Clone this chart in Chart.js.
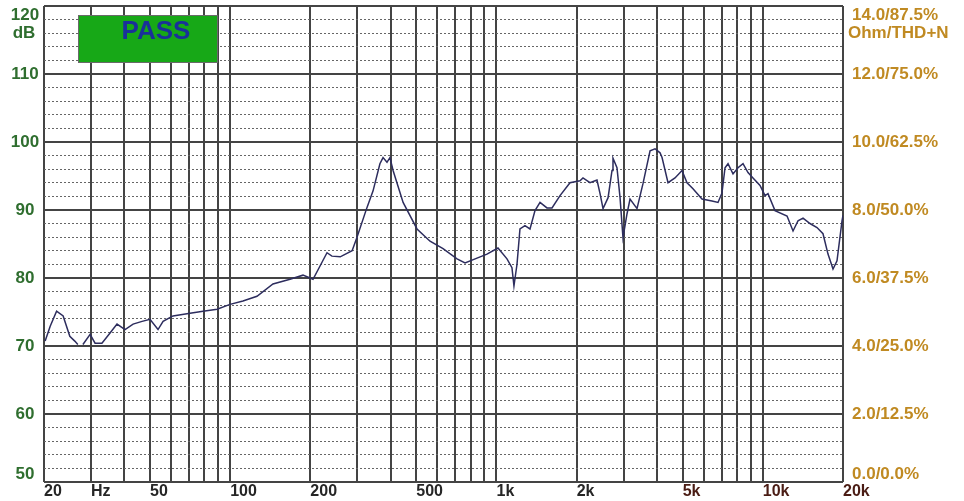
<!DOCTYPE html>
<html>
<head>
<meta charset="utf-8">
<script src="https://cdn.jsdelivr.net/npm/chart.js@4/dist/chart.umd.min.js"></script>
<style>
  body { margin: 0; background: #fff; }
  #wrap { width: 964px; height: 501px; }
</style>
</head>
<body>
<div id="wrap"><canvas id="respChart" width="964" height="501"></canvas></div>
<script>
// frequency response (Hz / dB). null = gap in the trace
const freqs = [20.2, 21.1, 22.3, 23.6, 25.0, 26.1, 26.8, 27.4,
  28.0, 29.8, 31.1, 33.0, 35.4, 37.6, 40.3, 43.2, 46.7, 50.0, 53.6, 56.0, 61.0, 70.7, 79.1, 89.3,
  99.9, 111.7, 126.1, 144.8, 167.8, 187.7, 204.7, 231, 241, 259, 287, 299, 326, 344, 365, 375,
  388, 398, 409, 446, 503, 563, 630, 711, 762, 845, 921, 1013, 1095, 1143, 1163, 1194, 1225,
  1279, 1336, 1395, 1457, 1547, 1616, 1732, 1888, 2058, 2112, 2244, 2384, 2448, 2512, 2624,
  2715, 2738, 2834, 2910, 2985, 3090, 3172, 3312, 3370, 3550, 3772, 3938, 4112, 4184, 4406,
  4680, 4972, 5192, 5468, 5910, 6444, 6788, 7026, 7212, 7402, 7728, 8070, 8426, 8798, 9186,
  9760, 10192, 10458, 11110, 12328, 12984, 13558, 14156, 15036, 15974, 16824, 17568, 18346,
  18990, 19830, 20000];
const spl = [70.7, 72.9, 75.1, 74.4, 71.4, 70.7, 70.2, null,
  70.2, 71.7, 70.4, 70.4, 71.9, 73.2, 72.4, 73.2, 73.6, 73.9, 72.4, 73.6, 74.4, 74.8, 75.1, 75.4,
  76.1, 76.6, 77.3, 79.1, 79.8, 80.4, 79.8, 83.7, 83.2, 83.1, 84.0, 85.9, 90.3, 92.8, 96.8, 97.7,
  97.0, 97.7, 95.8, 91.1, 87.2, 85.4, 84.3, 82.8, 82.2, 82.9, 83.5, 84.4, 82.8, 81.5, 78.8, 82.0, 87.2,
  87.7, 87.2, 89.9, 91.1, 90.3, 90.3, 92.1, 94.0, 94.3, 94.7, 94.0, 94.4, 92.4, 90.2, 91.8,
  95.8, 97.6, 96.2, 91.8, 85.9, 89.4, 91.6, 90.6, 90.2, 93.9, 98.7, 99.0, 98.4, 97.7, 94.0,
  94.7, 95.8, 94.0, 93.1, 91.6, 91.3, 91.1, 92.5, 96.2, 96.8, 95.3, 96.2, 96.8, 95.5, 94.7,
  93.6, 92.1, 92.4, 89.9, 89.1, 86.9, 88.4, 88.8, 88.0, 87.4, 86.5, 83.5, 81.3,
  82.5, 88.4, 89.2];

// grid / tick labels
const freqGrid = [20, 30, 40, 50, 60, 70, 80, 90, 100, 200, 300, 400, 500, 600, 700, 800, 900,
  1000, 2000, 3000, 4000, 5000, 6000, 7000, 8000, 9000, 10000, 20000];
const freqLabels = { 20: '20', 30: 'Hz', 50: '50', 100: '100', 200: '200', 500: '500',
  1000: '1k', 2000: '2k', 5000: '5k', 10000: '10k', 20000: '20k' };
const dbTicks = [120, 110, 100, 90, 80, 70, 60, 50];
const rightTicks = ['14.0/87.5%', '12.0/75.0%', '10.0/62.5%', '8.0/50.0%', '6.0/37.5%',
  '4.0/25.0%', '2.0/12.5%', '0.0/0.0%'];

const points = freqs.map((f, i) => ({ x: f, y: spl[i] }));

const FONT = '"Liberation Sans", Arial, sans-serif';

// axis side labels + PASS box
const sideLabels = {
  id: 'sideLabels',
  afterDraw: (chart) => {
    const { ctx, chartArea } = chart;
    const ys = chart.scales.y;
    ctx.save();
    ctx.textBaseline = 'middle';
    dbTicks.forEach((v, i) => {
      let py = ys.getPixelForValue(v);
      if (i === 0) py = 15;
      if (i === dbTicks.length - 1) py = 474;
      ctx.font = 'bold 17px ' + FONT;
      ctx.fillStyle = '#2f6e2f';
      ctx.textAlign = 'center';
      ctx.fillText(String(v), 25, py);
      ctx.font = 'bold 17px ' + FONT;
      ctx.fillStyle = '#c08a22';
      ctx.textAlign = 'left';
      ctx.fillText(rightTicks[i], chartArea.right + 9, py);
    });
    ctx.font = 'bold 17px ' + FONT;
    ctx.fillStyle = '#2f6e2f';
    ctx.textAlign = 'center';
    ctx.fillText('dB', 24, 33);
    ctx.fillStyle = '#c08a22';
    ctx.textAlign = 'left';
    ctx.fillText('Ohm/THD+N', chartArea.right + 5, 33);

    // PASS badge
    ctx.fillStyle = '#17a817';
    ctx.fillRect(78, 15, 140, 48);
    ctx.strokeStyle = '#6a6a6a';
    ctx.lineWidth = 1;
    ctx.strokeRect(78.5, 15.5, 139, 47);
    ctx.fillStyle = '#1a309a';
    ctx.font = 'bold 26px ' + FONT;
    ctx.textAlign = 'center';
    ctx.fillText('PASS', 156, 32);
    ctx.restore();
  }
};

const config = {
  type: 'line',
  data: {
    datasets: [{
      data: points,
      borderColor: '#2d2d5e',
      borderWidth: 1.5,
      pointRadius: 0,
      tension: 0,
      spanGaps: false
    }]
  },
  options: {
    responsive: false,
    animation: false,
    layout: { padding: { left: 44, right: 121, top: 6, bottom: 0 } },
    plugins: { legend: { display: false }, tooltip: { enabled: false } },
    scales: {
      x: {
        type: 'logarithmic',
        min: 20,
        max: 20000,
        afterBuildTicks: (scale) => {
          scale.ticks = freqGrid.map(v => ({ value: v }));
        },
        grid: { color: '#444', lineWidth: 2, drawTicks: false },
        border: { display: false },
        ticks: {
          autoSkip: false,
          maxRotation: 0,
          align: 'start',
          padding: 0,
          font: { family: FONT, size: 16, weight: 'bold' },
          color: (c) => (c.tick && c.tick.value >= 5000 ? '#4a1c14' : '#262626'),
          callback: (v) => freqLabels[v] || ''
        }
      },
      yMinor: {
        type: 'linear',
        position: 'left',
        min: 50,
        max: 120,
        ticks: { display: false, stepSize: 2 },
        grid: {
          drawTicks: false,
          lineWidth: 1,
          color: (c) => (c.tick && c.tick.value % 10 === 0 ? 'rgba(0,0,0,0)' : '#666')
        },
        border: { display: false, dash: [2, 2] }
      },
      y: {
        type: 'linear',
        position: 'left',
        min: 50,
        max: 120,
        ticks: { display: false, stepSize: 10 },
        grid: { color: '#444', lineWidth: 2, drawTicks: false },
        border: { display: false }
      }
    }
  },
  plugins: [sideLabels]
};

new Chart(document.getElementById('respChart').getContext('2d'), config);
</script>
</body>
</html>
